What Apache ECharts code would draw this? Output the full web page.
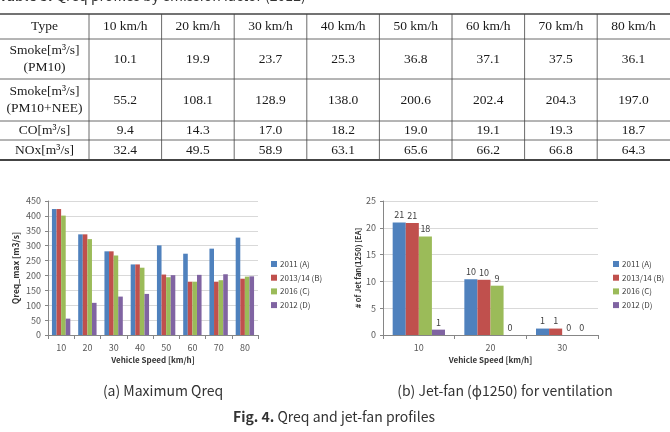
<!DOCTYPE html>
<html>
<head>
<meta charset="utf-8">
<script src="https://cdn.jsdelivr.net/npm/echarts@6/dist/echarts.min.js"></script>
<style>
  html, body { margin: 0; padding: 0; background: #fff; }
  #main { width: 670px; height: 432px; }
</style>
</head>
<body>
<div id="main"></div>
<script>
// 左图：最大 Qreq
var speeds = ['10', '20', '30', '40', '50', '60', '70', '80'];
var qreq2011 = [423, 338, 281, 237, 301, 273, 290, 327];
var qreq2013 = [423, 338, 281, 237, 203, 179, 179, 189];
var qreq2016 = [401, 322, 267, 226, 194, 179, 184, 196];
var qreq2012 = [55, 108, 129, 138, 201, 202, 204, 197];

// 右图：射流风机台数
var fanSpeeds = ['10', '20', '30'];
var fan2011 = [21, 10.4, 1.2];
var fan2013 = [20.9, 10.3, 1.2];
var fan2016 = [18.4, 9.2, 0];
var fan2012 = [1, 0, 0];

var seriesNames = ['2011 (A)', '2013/14 (B)', '2016 (C)', '2012 (D)'];

// 表格
var tableHead = ['Type', '10 km/h', '20 km/h', '30 km/h', '40 km/h', '50 km/h', '60 km/h', '70 km/h', '80 km/h'];
var rowLabels = ['Smoke[m³/s]\n(PM10)', 'Smoke[m³/s]\n(PM10+NEE)', 'CO[m³/s]', 'NOx[m³/s]'];
var smokePM10 = [10.1, 19.9, 23.7, 25.3, 36.8, 37.1, 37.5, 36.1];
var smokeNEE = [55.2, 108.1, 128.9, 138.0, 200.6, 202.4, 204.3, 197.0];
var coRate = [9.4, 14.3, 17.0, 18.2, 19.0, 19.1, 19.3, 18.7];
var noxRate = [32.4, 49.5, 58.9, 63.1, 65.6, 66.2, 66.8, 64.3];

var colors = ['#4F81BD', '#C0504D', '#9BBB59', '#8064A2'];

document.addEventListener('DOMContentLoaded', function () {
    var chart = echarts.init(document.getElementById('main'));

    // 表格布局
    var typeW = 89, colW = 72.6;
    var rowY = [14, 39, 79, 121, 140, 160];
    var serif = '"Liberation Serif", "Times New Roman", serif';
    var sans = '"Noto Sans CJK KR", "Noto Sans", sans-serif';
    var graphics = [];

    function colLeft(i) { return i === 0 ? 0 : typeW + (i - 1) * colW; }
    function colRight(i) { return i === 0 ? typeW : Math.min(670, typeW + i * colW); }

    function cellText(txt, col, row) {
        graphics.push({
            type: 'text',
            x: (colLeft(col) + colRight(col)) / 2,
            y: (rowY[row] + rowY[row + 1]) / 2,
            style: {
                text: txt, fontFamily: serif, fontSize: 13.5, fill: '#1a1a1a',
                align: 'center', verticalAlign: 'middle', lineHeight: 17
            }
        });
    }

    // 横线
    rowY.forEach(function (y, i) {
        var w = (i === 0) ? 1.3 : (i === rowY.length - 1 ? 2 : 0.8);
        graphics.push({
            type: 'line', shape: { x1: 0, y1: y, x2: 670, y2: y },
            style: { stroke: '#444', lineWidth: w }
        });
    });
    // 竖线
    for (var c = 1; c < tableHead.length; c++) {
        var x = colLeft(c);
        graphics.push({
            type: 'line', shape: { x1: x, y1: rowY[0], x2: x, y2: rowY[rowY.length - 1] },
            style: { stroke: '#444', lineWidth: 0.8 }
        });
    }
    tableHead.forEach(function (h, i) { cellText(h, i, 0); });
    var rows = [smokePM10, smokeNEE, coRate, noxRate];
    rows.forEach(function (vals, r) {
        cellText(rowLabels[r], 0, r + 1);
        vals.forEach(function (v, i) { cellText(v.toFixed(1), i + 1, r + 1); });
    });

    // 标题与图注
    graphics.push({
        type: 'text', x: -1, y: 3,
        style: {
            text: '{b|Table 3.} Qreq profiles by emission factor (2012)',
            fontFamily: sans, fontSize: 14, fill: '#333', verticalAlign: 'bottom',
            rich: { b: { fontWeight: 'bold', fontFamily: sans, fontSize: 14, fill: '#333' } }
        }
    });
    graphics.push({
        type: 'text', x: 163, y: 391,
        style: { text: '(a) Maximum Qreq', fontFamily: sans, fontSize: 14, fill: '#333', align: 'center', verticalAlign: 'middle' }
    });
    graphics.push({
        type: 'text', x: 505, y: 391,
        style: { text: '(b) Jet-fan (ϕ1250) for ventilation', fontFamily: sans, fontSize: 14, fill: '#333', align: 'center', verticalAlign: 'middle' }
    });
    graphics.push({
        type: 'text', x: 334, y: 417,
        style: {
            text: '{b|Fig. 4.} Qreq and jet-fan profiles',
            fontFamily: sans, fontSize: 14, fill: '#333', align: 'center', verticalAlign: 'middle',
            rich: { b: { fontWeight: 'bold', fontFamily: sans, fontSize: 14, fill: '#333' } }
        }
    });

    var axisLabelStyle = { fontFamily: sans, fontSize: 9, color: '#595959' };
    var axisLineStyle = { color: '#868686', width: 1 };

    function xAxisDef(grid, data) {
        return {
            type: 'category', gridIndex: grid, data: data,
            axisLine: { lineStyle: axisLineStyle },
            axisTick: { show: true, length: 4, lineStyle: axisLineStyle },
            axisLabel: Object.assign({ margin: 8 }, axisLabelStyle),
            name: 'Vehicle Speed [km/h]', nameLocation: 'middle', nameGap: 21,
            nameTextStyle: { fontFamily: sans, fontSize: 8, fontWeight: 'bold', color: '#333' }
        };
    }
    function yAxisDef(grid, max, interval, name, gap, nameSize) {
        return {
            type: 'value', gridIndex: grid, min: 0, max: max, interval: interval,
            axisLine: { show: true, lineStyle: axisLineStyle },
            axisTick: { show: true, length: 3, lineStyle: axisLineStyle },
            axisLabel: Object.assign({ margin: 7 }, axisLabelStyle),
            splitLine: { lineStyle: { color: '#D9D9D9', width: 1 } },
            name: name, nameLocation: 'middle', nameGap: gap, nameRotate: 90,
            nameTextStyle: { fontFamily: sans, fontSize: nameSize, fontWeight: 'bold', color: '#333' }
        };
    }
    function legendDef(left) {
        return {
            data: seriesNames, orient: 'vertical', left: left, top: 255,
            itemWidth: 6, itemHeight: 6, itemGap: 5.7, icon: 'rect',
            textStyle: { fontFamily: sans, fontSize: 8, color: '#404040', lineHeight: 8, padding: [0, 0, 0, -2] },
            selectedMode: false
        };
    }

    var leftData = [qreq2011, qreq2013, qreq2016, qreq2012];
    var rightData = [fan2011, fan2013, fan2016, fan2012];
    var series = [];
    leftData.forEach(function (d, i) {
        series.push({
            name: seriesNames[i], type: 'bar', xAxisIndex: 0, yAxisIndex: 0,
            data: d, barGap: '0%', barCategoryGap: '30%',
            itemStyle: { color: colors[i] }
        });
    });
    rightData.forEach(function (d, i) {
        series.push({
            name: seriesNames[i], type: 'bar', xAxisIndex: 1, yAxisIndex: 1,
            data: d, barGap: '0%', barCategoryGap: '27%',
            itemStyle: { color: colors[i] },
            label: {
                show: true, position: 'top', distance: 3,
                fontFamily: sans, fontSize: 9, color: '#404040',
                formatter: function (p) { return Math.round(p.value); }
            }
        });
    });

    var option = {
        animation: false,
        backgroundColor: '#fff',
        color: colors,
        grid: [
            { left: 48, top: 201, width: 210, height: 134 },
            { left: 383, top: 201, width: 215, height: 134 }
        ],
        xAxis: [xAxisDef(0, speeds), xAxisDef(1, fanSpeeds)],
        yAxis: [
            yAxisDef(0, 450, 50, 'Qreq_max [m3/s]', 28, 8.5),
            yAxisDef(1, 25, 5, '# of Jet fan(1250) [EA]', 20, 7.5)
        ],
        legend: [legendDef(266), legendDef(608)],
        series: series,
        graphic: { elements: graphics }
    };

    try {
        chart.setOption(option);
    } catch (error) {
        console.error('Error setting the chart option:', error);
    }
});
</script>
</body>
</html>
